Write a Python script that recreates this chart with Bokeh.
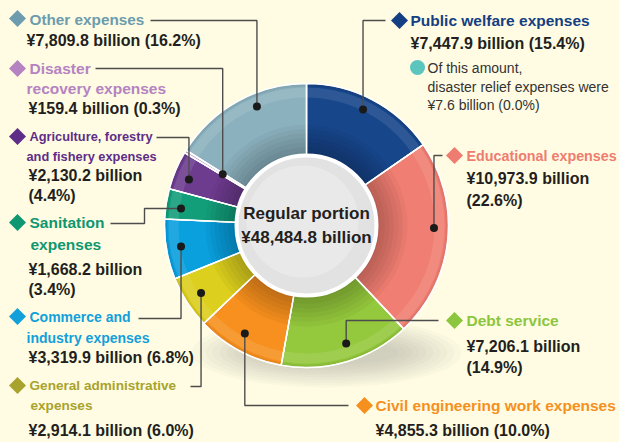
import math
from bokeh.plotting import figure
from bokeh.models import Range1d
from bokeh.embed import file_html
from bokeh.resources import INLINE
from bokeh.core.properties import value

# ---------------- data ----------------
categories = [
    "Public welfare expenses",
    "Educational expenses",
    "Debt service",
    "Civil engineering work expenses",
    "General administrative expenses",
    "Commerce and industry expenses",
    "Sanitation expenses",
    "Agriculture, forestry and fishery expenses",
    "Disaster recovery expenses",
    "Other expenses",
]
amounts = [7447.9, 10973.9, 7206.1, 4855.3, 2914.1, 3319.9, 1668.2, 2130.2, 159.4, 7809.8]
shares = [15.4, 22.6, 14.9, 10.0, 6.0, 6.8, 3.4, 4.4, 0.3, 16.2]
total_label = "Regular portion"
total_amount = 48484.8
relief_amount = 7.6
relief_share = 0.0

# ---------------- styles ----------------
slice_colors = ["#17468A", "#F07E72", "#94C83D", "#F7901E", "#DCCF1E",
                "#0A9FDD", "#139E7A", "#6E3C8F", "#C9A6D3", "#8BB1BE"]
title_colors = ["#143F82", "#EE7C70", "#8CC63F", "#F5901E", "#A8A32C",
                "#12A0DB", "#0E9770", "#5E2D88", "#B583C2", "#6C9CAD"]
BG = "#FFFCE3"
DARK = "#231F20"
FONT = value("Liberation Sans")

CX, CY = 306, 225          # donut centre (screen-like coords, y down)
R_OUT, R_IN = 142, 70

# layout: title break (words on first line), font size, positions, leaders
layout = [
    dict(brk=None, fs=15.5, d=(399, 20), t=[(410, 20)], v=(410, 43), vmode="one", v2=None,
         lead=(385, 20), xm=None, r=129, f=0.47),
    dict(brk=None, fs=14.3, d=(454, 155), t=[(466, 155)], v=(466, 178), vmode="two", v2=(466, 200),
         lead=(442, 155), xm=None, r=127.5, f=0.44),
    dict(brk=None, fs=15.5, d=(454, 320), t=[(466, 320)], v=(466, 346), vmode="two", v2=(466, 367),
         lead=(438, 320), xm=None, r=124.4, f=0.46),
    dict(brk=None, fs=15.5, d=(364, 405), t=[(375, 405)], v=(375, 430), vmode="one", v2=None,
         lead=(348, 405), xm=None, r=124.3, f=0.54),
    dict(brk=2, fs=13.6, d=(17, 385), t=[(29, 385), (30, 405)], v=(28, 430), vmode="one", v2=None,
         lead=(190, 386), xm=None, r=125.2, f=0.51),
    dict(brk=2, fs=14.0, d=(17, 316), t=[(29, 316), (26, 337)], v=(28, 357), vmode="one", v2=None,
         lead=(138, 318), xm=None, r=127.2, f=0.51),
    dict(brk=1, fs=15.5, d=(17, 222), t=[(29, 222), (30, 244)], v=(28, 269), vmode="two", v2=(28, 289),
         lead=(110, 223), xm=144, r=126.6, f=0.41),
    dict(brk=2, fs=12.8, d=(17, 136), t=[(29, 136), (26, 156)], v=(28, 175), vmode="two", v2=(28, 195),
         lead=(156, 137), xm=None, r=126.2, f=0.40),
    dict(brk=1, fs=15.5, d=(17, 68), t=[(29, 68), (26, 88)], v=(28, 108), vmode="one", v2=None,
         lead=(95, 68), xm=None, r=98.2, f=0.5),
    dict(brk=None, fs=15.3, d=(17, 18), t=[(29, 19)], v=(26, 40), vmode="one", v2=None,
         lead=(150, 20), xm=None, r=128.9, f=0.61),
]

def Y(y):
    return -y

p = figure(width=619, height=442, x_range=Range1d(0, 619), y_range=Range1d(-442, 0),
           output_backend="svg", toolbar_location=None, min_border=0)
p.axis.visible = False
p.grid.visible = False
p.outline_line_color = None
p.background_fill_color = BG
p.border_fill_color = BG

# soft shadow under the donut
for k in range(10):
    p.ellipse(x=[326], y=[Y(352)], width=[270 - k * 14], height=[70 - k * 5],
              fill_color="#7A7A6A", fill_alpha=0.035, line_color=None)

# slices
tot = sum(amounts)
cum = 0.0
starts, ends = [], []
for a in amounts:
    starts.append(cum)
    cum += a / tot
    ends.append(cum)

sa = [math.pi / 2 - 2 * math.pi * s for s in starts]
ea = [math.pi / 2 - 2 * math.pi * e for e in ends]
p.annular_wedge(x=[CX] * len(amounts), y=[Y(CY)] * len(amounts),
                inner_radius=R_IN, outer_radius=R_OUT,
                start_angle=sa, end_angle=ea, direction="clock",
                fill_color=slice_colors, line_color="white", line_width=1.5)

# 3D-ish shading: dark inner band, light rim
for k in range(7):
    p.annulus(x=[CX], y=[Y(CY)], inner_radius=R_IN, outer_radius=R_IN + 4 + k * 4.5,
              fill_color="black", fill_alpha=0.035, line_color=None)
p.annulus(x=[CX], y=[Y(CY)], inner_radius=R_OUT - 14, outer_radius=R_OUT - 4,
          fill_color="white", fill_alpha=0.10, line_color=None)
p.annulus(x=[CX], y=[Y(CY)], inner_radius=R_OUT - 3, outer_radius=R_OUT,
          fill_color="black", fill_alpha=0.06, line_color=None)

# white separators drawn again on top of shading
p.annular_wedge(x=[CX] * len(amounts), y=[Y(CY)] * len(amounts),
                inner_radius=R_IN, outer_radius=R_OUT,
                start_angle=sa, end_angle=ea, direction="clock",
                fill_color=None, line_color="white", line_width=1.2, line_alpha=0.9)

# centre disc
p.circle(x=[CX], y=[Y(CY)], radius=R_IN, fill_color="#E2E2E2", line_color="white", line_width=4)
p.circle(x=[CX - 4], y=[Y(CY - 4)], radius=R_IN - 14, fill_color="#EEEEEE", fill_alpha=0.6, line_color=None)
p.text(x=[CX], y=[Y(213)], text=[total_label], text_font=FONT, text_font_style="bold",
       text_font_size="17px", text_align="center", text_baseline="middle", text_color=DARK)
p.text(x=[CX], y=[Y(237)], text=[f"¥{total_amount:,.1f} billion"], text_font=FONT,
       text_font_style="bold", text_font_size="17px", text_align="center",
       text_baseline="middle", text_color=DARK)

# labels, leaders, dots
LINE = "#4D4D4D"
for i, name in enumerate(categories):
    L = layout[i]
    theta = 2 * math.pi * (starts[i] + L["f"] * (ends[i] - starts[i]))
    dx = CX + L["r"] * math.sin(theta)
    dy = CY - L["r"] * math.cos(theta)
    x0, y0 = L["lead"]
    if L["xm"] is None:
        xs = [x0, dx, dx]
        ys = [y0, y0, dy]
    else:
        xs = [x0, L["xm"], L["xm"], dx]
        ys = [y0, y0, dy, dy]
    p.line(x=xs, y=[Y(v) for v in ys], line_color=LINE, line_width=1.4)
    p.scatter(x=[dx], y=[Y(dy)], size=8, marker="circle", fill_color="#1A1A1A", line_color=None)

    # diamond
    p.scatter(x=[L["d"][0]], y=[Y(L["d"][1])], marker="square", size=12, angle=math.pi / 4,
              fill_color=title_colors[i], line_color=None)
    words = name.split(" ")
    if L["brk"] is None:
        tlines = [name]
    else:
        tlines = [" ".join(words[:L["brk"]]), " ".join(words[L["brk"]:])]
    for (tx, ty), tl in zip(L["t"], tlines):
        p.text(x=[tx], y=[Y(ty)], text=[tl], text_font=FONT, text_font_style="bold",
               text_font_size=f"{L['fs']}px", text_baseline="middle", text_color=title_colors[i])
    amt = f"¥{amounts[i]:,.1f} billion"
    pct = f"({shares[i]:.1f}%)"
    if L["vmode"] == "one":
        p.text(x=[L["v"][0]], y=[Y(L["v"][1])], text=[amt + " " + pct], text_font=FONT,
               text_font_style="bold", text_font_size="16px", text_baseline="middle", text_color=DARK)
    else:
        p.text(x=[L["v"][0]], y=[Y(L["v"][1])], text=[amt], text_font=FONT,
               text_font_style="bold", text_font_size="16px", text_baseline="middle", text_color=DARK)
        p.text(x=[L["v2"][0]], y=[Y(L["v2"][1])], text=[pct], text_font=FONT,
               text_font_style="bold", text_font_size="16px", text_baseline="middle", text_color=DARK)

# note under public welfare
p.scatter(x=[417], y=[Y(67)], marker="circle", size=15, fill_color="#5BC5BE", line_color=None)
note_lines = ["Of this amount,", "disaster relief expenses were",
              f"¥{relief_amount:,.1f} billion ({relief_share:.1f}%)"]
for ln, yy in zip(note_lines, [67, 86, 104]):
    p.text(x=[427], y=[Y(yy)], text=[ln], text_font=FONT, text_font_size="14px",
           text_baseline="middle", text_color="#333333")

html = file_html(p, INLINE)
html = html.replace("</head>", "<style>body{background:%s;}</style></head>" % BG, 1)
open("out.html", "w").write(html)
